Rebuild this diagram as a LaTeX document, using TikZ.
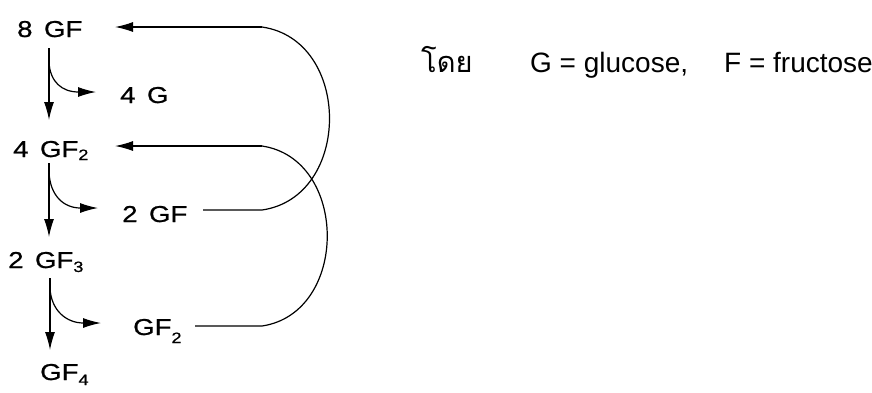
\documentclass[tikz,border=0pt]{standalone}
\usepackage{fontspec}
\setmainfont{Liberation Sans}
\newfontfamily\lblfont[FakeStretch=1.2,FakeBold=0.8]{Liberation Sans}
\newfontfamily\thaifont[Script=Thai]{Loma}
\usetikzlibrary{arrows.meta}
\newcommand{\mysub}[2][3pt]{\raisebox{-#1}{\fontsize{15}{15}\selectfont #2}}
\begin{document}
\begin{tikzpicture}[x=1pt,y=-1pt,
  lbl/.style={anchor=base west,inner sep=0pt,font=\lblfont\fontsize{23}{23}\selectfont},
  txt/.style={anchor=base west,inner sep=0pt,font=\fontsize{28}{28}\selectfont},
  ln/.style={line width=1.2pt},
  arr/.style={ln,-{Latex[length=18pt,width=10pt]}}]
\useasboundingbox (0,0) rectangle (872,392);
% labels
\node[lbl] (gf8) at (17,37) {8\, GF};
\node[lbl] (g4) at (120,103) {4\, G};
\node[lbl] (gf2a) at (13,157) {4\, GF\mysub{2}};
\node[lbl] (gf2b) at (122,222) {2\, GF};
\node[lbl] (gf3) at (8,268) {2\, GF\mysub[4pt]{3}};
\node[lbl] (gf2c) at (133,335) {GF\mysub[8pt]{2}};
\node[lbl] (gf4) at (40,380) {GF\mysub[5pt]{4}};
\node[anchor=base west,inner sep=0pt,font=\thaifont\fontsize{29}{29}\selectfont] (doi) at (421,72) {โดย};
\node[txt] (def) at (530,72) {G = glucose,\hspace{36pt}F = fructose};
% coordinates
\coordinate (a1) at (49,48);  \coordinate (a1e) at (49,120);
\coordinate (b1) at (49,62);  \coordinate (b1e) at (96,92);
\coordinate (a2) at (49,163); \coordinate (a2e) at (49,237);
\coordinate (b2) at (49,172); \coordinate (b2e) at (98,208);
\coordinate (a3) at (50,278); \coordinate (a3e) at (50,350);
\coordinate (b3) at (50,288); \coordinate (b3e) at (101,323);
\coordinate (t1) at (115,27);  \coordinate (c1) at (262,27);
\coordinate (t2) at (115,146); \coordinate (c2) at (262,146);
\coordinate (s1) at (203,210); \coordinate (d1) at (262,210);
\coordinate (s2) at (195,326); \coordinate (d2) at (262,326);
% down arrows
\draw[arr] (a1) -- (a1e);
\draw[arr] (a2) -- (a2e);
\draw[arr] (a3) -- (a3e);
% branch arrows
\draw[arr] (b1) .. controls (50,82) and (62,92) .. (b1e);
\draw[arr] (b2) .. controls (50,196) and (64,208) .. (b2e);
\draw[arr] (b3) .. controls (51,310) and (66,323) .. (b3e);
% recycle loops
\draw[ln] (s1) -- (d1) .. controls (352,197) and (352,40) .. (c1);
\draw[arr] (c1) -- (t1);
\draw[ln] (s2) -- (d2) .. controls (349,313) and (349,159) .. (c2);
\draw[arr] (c2) -- (t2);
\end{tikzpicture}
\end{document}
